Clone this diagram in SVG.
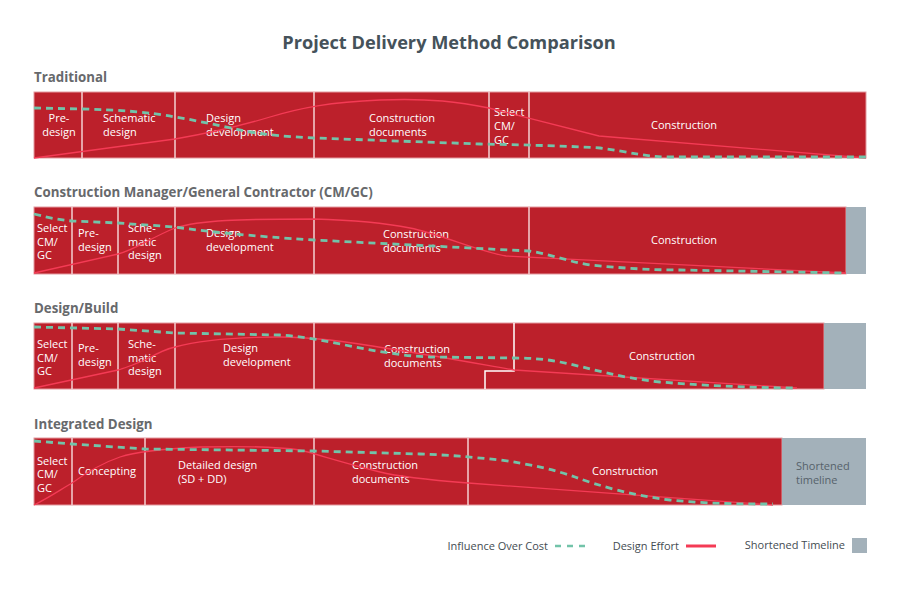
<svg xmlns="http://www.w3.org/2000/svg" width="901" height="601" viewBox="0 0 901 601">
<style>
.title{font-family:"Open Sans","Liberation Sans",sans-serif;font-weight:bold;font-size:18.2px;fill:#45525a}
.sec{font-family:"Open Sans","Liberation Sans",sans-serif;font-weight:bold;font-size:13.3px;fill:#67696c}
.lbl{font-family:"Open Sans","Liberation Sans",sans-serif;font-size:11px;fill:#ffffff}
.glbl{font-family:"Open Sans","Liberation Sans",sans-serif;font-size:11px;fill:#56626a}
.leg{font-family:"Open Sans","Liberation Sans",sans-serif;font-size:11px;fill:#444c52}
.bar{fill:#bc202b;stroke:#e39aa0;stroke-width:1}
.gray{fill:#a3b1ba}
.div{stroke:#f3d0d2;stroke-width:1.5;fill:none}
.eff{fill:none;stroke:#f43b55;stroke-width:1.3}
.inf{fill:none;stroke:#72c3a9;stroke-width:2.8;stroke-dasharray:7 5}
</style>
<rect width="901" height="601" fill="#ffffff"/>
<text class="title" x="449" y="49" text-anchor="middle">Project Delivery Method Comparison</text>

<g id="row-traditional">
<text class="sec" x="34" y="82">Traditional</text>
<rect class="bar" x="34" y="92" width="832" height="66"/>
<path class="div" d="M82,92V158M175,92V158M314,92V158M489,92V158M529,92V158"/>
<g id="t-predesign"><text class="lbl" x="59" y="122" text-anchor="middle">Pre-</text><text class="lbl" x="59" y="136" text-anchor="middle">design</text></g>
<g id="t-schematic"><text class="lbl" x="103" y="122">Schematic</text><text class="lbl" x="103" y="136">design</text></g>
<g id="t-dd"><text class="lbl" x="206" y="122">Design</text><text class="lbl" x="206" y="136">development</text></g>
<g id="t-cd"><text class="lbl" x="369" y="122">Construction</text><text class="lbl" x="369" y="136">documents</text></g>
<g id="t-select"><text class="lbl" x="494" y="116">Select</text><text class="lbl" x="494" y="130">CM/</text><text class="lbl" x="494" y="144">GC</text></g>
<g id="t-construction"><text class="lbl" x="684" y="129" text-anchor="middle">Construction</text></g>
</g>

<g id="row-cmgc">
<text class="sec" x="34" y="197">Construction Manager/General Contractor (CM/GC)</text>
<rect class="bar" x="34" y="207" width="812" height="67"/>
<rect class="gray" x="846" y="207" width="20" height="67"/>
<path class="div" d="M72,207V274M118,207V274M175,207V274M314,207V274M529,207V274"/>
<g id="c-select"><text class="lbl" x="37" y="232">Select</text><text class="lbl" x="37" y="245.5">CM/</text><text class="lbl" x="37" y="259">GC</text></g>
<g id="c-predesign"><text class="lbl" x="78" y="237">Pre-</text><text class="lbl" x="78" y="251">design</text></g>
<g id="c-schematic"><text class="lbl" x="128" y="232">Sche-</text><text class="lbl" x="128" y="245.5">matic</text><text class="lbl" x="128" y="259">design</text></g>
<g id="c-dd"><text class="lbl" x="206" y="237">Design</text><text class="lbl" x="206" y="251">development</text></g>
<g id="c-cd"><text class="lbl" x="383" y="238">Construction</text><text class="lbl" x="383" y="252">documents</text></g>
<g id="c-construction"><text class="lbl" x="684" y="244" text-anchor="middle">Construction</text></g>
</g>

<g id="row-designbuild">
<text class="sec" x="34" y="313">Design/Build</text>
<rect class="bar" x="34" y="323" width="790" height="66"/>
<rect class="gray" x="824" y="323" width="42" height="66"/>
<path class="div" d="M72,323V389M118,323V389M175,323V389M314,323V389"/>
<path d="M514,323V371H485V389" fill="none" stroke="#ffffff" stroke-width="1.5"/>
<g id="d-select"><text class="lbl" x="37" y="348">Select</text><text class="lbl" x="37" y="361.5">CM/</text><text class="lbl" x="37" y="375">GC</text></g>
<g id="d-predesign"><text class="lbl" x="78" y="352">Pre-</text><text class="lbl" x="78" y="366">design</text></g>
<g id="d-schematic"><text class="lbl" x="128" y="348">Sche-</text><text class="lbl" x="128" y="361.5">matic</text><text class="lbl" x="128" y="375">design</text></g>
<g id="d-dd"><text class="lbl" x="223" y="352">Design</text><text class="lbl" x="223" y="366">development</text></g>
<g id="d-cd"><text class="lbl" x="384" y="353">Construction</text><text class="lbl" x="384" y="367">documents</text></g>
<g id="d-construction"><text class="lbl" x="662" y="360" text-anchor="middle">Construction</text></g>
</g>

<g id="row-integrated">
<text class="sec" x="34" y="429">Integrated Design</text>
<rect class="bar" x="34" y="438" width="748" height="67"/>
<rect class="gray" x="782" y="438" width="84" height="67"/>
<path class="div" d="M72,438V505M145,438V505M314,438V505M468,438V505"/>
<g id="i-select"><text class="lbl" x="37" y="464.5">Select</text><text class="lbl" x="37" y="478">CM/</text><text class="lbl" x="37" y="491.5">GC</text></g>
<g id="i-concepting"><text class="lbl" x="78" y="475">Concepting</text></g>
<g id="i-detailed"><text class="lbl" x="178" y="468.5">Detailed design</text><text class="lbl" x="178" y="482.5">(SD + DD)</text></g>
<g id="i-cd"><text class="lbl" x="352" y="469">Construction</text><text class="lbl" x="352" y="482.5">documents</text></g>
<g id="i-construction"><text class="lbl" x="625" y="475" text-anchor="middle">Construction</text></g>
<g id="i-shortened"><text class="glbl" x="796" y="470">Shortened</text><text class="glbl" x="796" y="484">timeline</text></g>
</g>

<g id="curves">
<path class="eff" d="M34,158 L175,139 C210,133 240,126 270,117 C300,108 330,102 380,100 C430,98 460,102 489,108 L599,136 L866,158"/>
<path class="inf" d="M34,108 L82,109 C120,110 150,112 175,117 C200,121 220,126 250,132 C275,136 295,137 314,138 L480,144 C530,145 570,146 600,148 C630,152 645,157 670,157 L866,157"/>
<path class="eff" d="M34,273 L118,254 C135,250 150,238 175,228 C200,220 240,219 314,219 C350,220 380,222 410,228 C440,234 480,252 506,256 L846,273"/>
<path class="inf" d="M34,214 C50,218 60,220 72,221 L118,223 L175,227 C210,232 250,236 314,240 L529,251 C550,254 570,262 590,265 C620,268 650,270 680,270 L846,273"/>
<path class="eff" d="M34,388 L118,370 C125,368 135,364 145,360 C158,353 165,349 175,347 C200,340 230,337 280,337 C300,337 310,338 330,340 C380,346 440,357 514,370 L797,388"/>
<path class="inf" d="M34,327 L118,329 L175,333 L280,335 C300,336 320,340 340,344 C370,350 400,356 430,357 L514,358 C530,358 545,359 560,362 C590,368 620,378 660,382 C710,386 760,388 797,388"/>
<path class="eff" d="M34,505 C50,497 60,490 72,483 C90,470 105,462 120,457 C135,452 160,449 200,447 C240,446 280,447 300,450 C320,455 340,462 380,472 C400,477 430,480 468,483 L773,505"/>
<path class="inf" d="M34,441 L72,444 L145,449 L314,451 L420,454 C450,455 470,457 500,460 C530,464 555,470 575,477 C600,486 630,495 670,500 C710,504 740,504 773,504"/>
</g>

<g id="legend">
<text class="leg" x="548" y="550" text-anchor="end">Influence Over Cost</text>
<line x1="555" y1="546" x2="587" y2="546" stroke="#72c3a9" stroke-width="2.5" stroke-dasharray="6 6"/>
<text class="leg" x="679" y="550" text-anchor="end">Design Effort</text>
<line x1="686" y1="546" x2="716" y2="546" stroke="#f43b55" stroke-width="3"/>
<text class="leg" x="845" y="549" text-anchor="end">Shortened Timeline</text>
<rect class="gray" x="852" y="538" width="15" height="15"/>
</g>
</svg>
